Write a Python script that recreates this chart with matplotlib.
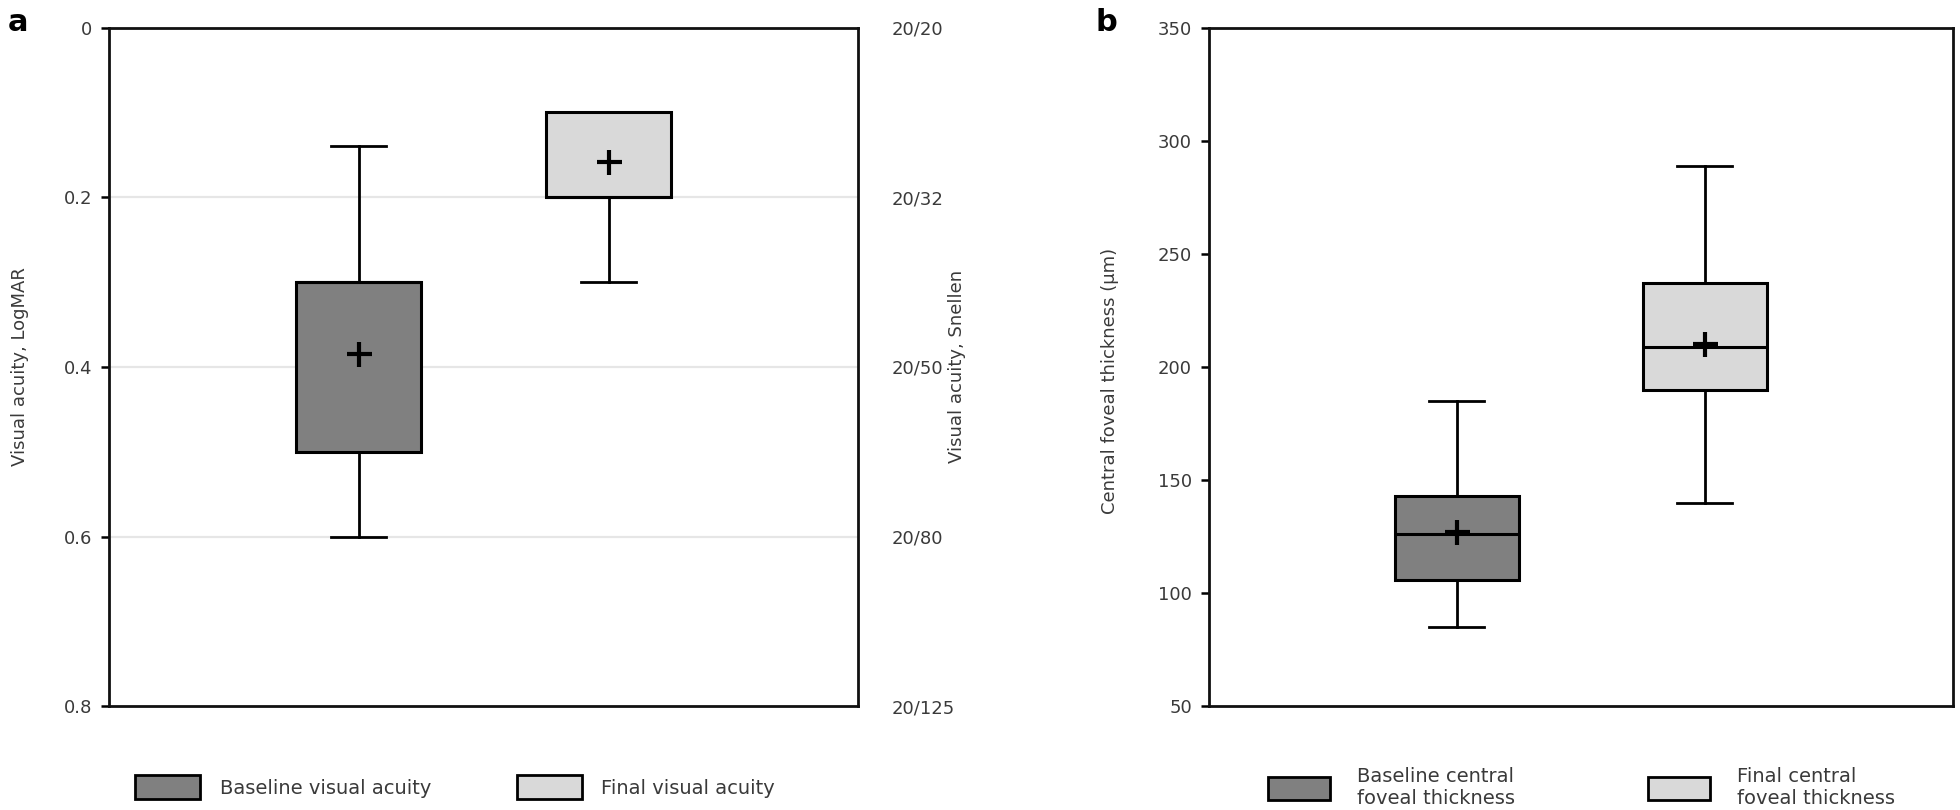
import matplotlib
matplotlib.use("Agg")
import matplotlib.pyplot as plt
import matplotlib.patches as mpatches

plt.rcParams["font.family"] = ["DejaVu Sans"]

# ── Data ─────────────────────────────────────────────────────────────────────
va_labels = ["Baseline visual acuity", "Final visual acuity"]
va_whislo = [0.14, 0.10]
va_q1 = [0.30, 0.10]
va_med = [0.30, 0.20]
va_q3 = [0.50, 0.20]
va_whishi = [0.60, 0.30]
va_mean = [0.385, 0.158]

logmar_ticks = [0, 0.2, 0.4, 0.6, 0.8]
logmar_labels = ["0", "0.2", "0.4", "0.6", "0.8"]
snellen_labels = ["20/20", "20/32", "20/50", "20/80", "20/125"]

cft_labels = ["Baseline central\nfoveal thickness", "Final central\nfoveal thickness"]
cft_whislo = [85, 140]
cft_q1 = [106, 190]
cft_med = [126, 209]
cft_q3 = [143, 237]
cft_whishi = [185, 289]
cft_mean = [127, 210]

cft_ticks = [50, 100, 150, 200, 250, 300, 350]

FILLS = ["#808080", "#d9d9d9"]
TICK_COLOR = "#3a3a3a"
FS = 13
LEG_FS = 14


def make_stats(lo, q1, med, q3, hi, mean):
    return [dict(whislo=a, q1=b, med=c, q3=d, whishi=e, mean=f, fliers=[])
            for a, b, c, d, e, f in zip(lo, q1, med, q3, hi, mean)]


def draw_boxes(ax, stats):
    bp = ax.bxp(stats, positions=[1, 2], widths=0.5, patch_artist=True,
                showmeans=True, showfliers=False, capwidths=0.22,
                boxprops=dict(edgecolor="black", linewidth=2.2),
                whiskerprops=dict(color="black", linewidth=2.0),
                capprops=dict(color="black", linewidth=2.0),
                medianprops=dict(color="black", linewidth=2.2),
                meanprops=dict(marker="+", markersize=18, markeredgecolor="black",
                               markeredgewidth=3.0))
    for patch, c in zip(bp["boxes"], FILLS):
        patch.set_facecolor(c)
        patch.set_zorder(3)
    for key in ("whiskers", "caps", "medians", "means"):
        for art in bp[key]:
            art.set_zorder(4)
    ax.set_xlim(0, 3)
    ax.set_xticks([])
    for spine in ax.spines.values():
        spine.set_linewidth(2.0)
        spine.set_color("#111111")
    ax.tick_params(axis="y", direction="out", length=6, width=1.8,
                   labelsize=FS, labelcolor=TICK_COLOR, pad=6)
    return bp


fig = plt.figure(figsize=(19.6, 8.1), dpi=100)

# ── Panel a ──────────────────────────────────────────────────────────────────
ax1 = fig.add_axes([0.0555, 0.128, 0.3825, 0.838])
draw_boxes(ax1, make_stats(va_whislo, va_q1, va_med, va_q3, va_whishi, va_mean))
ax1.set_ylim(0.8, 0)
ax1.set_yticks(logmar_ticks)
ax1.set_yticklabels(logmar_labels)
for t in logmar_ticks[1:-1]:
    ax1.axhline(t, color="#e6e6e6", linewidth=1.6, zorder=1)
ax1.set_ylabel("Visual acuity, LogMAR", fontsize=FS, color=TICK_COLOR)
ax1.yaxis.set_label_coords(-0.107, 0.5)

ax1r = ax1.twinx()
ax1r.set_ylim(0.8, 0)
ax1r.set_yticks(logmar_ticks)
ax1r.set_yticklabels(snellen_labels)
ax1r.tick_params(axis="y", length=0, labelsize=FS, labelcolor=TICK_COLOR, pad=24)
ax1r.set_ylabel("Visual acuity, Snellen", fontsize=FS, color=TICK_COLOR)
ax1r.yaxis.set_label_coords(1.12, 0.5)
for spine in ax1r.spines.values():
    spine.set_visible(False)

handles_a = [mpatches.Patch(facecolor=c, edgecolor="black", linewidth=2.0, label=l)
             for c, l in zip(FILLS, va_labels)]
fig.legend(handles=handles_a, loc="center left", bbox_to_anchor=(0.060, 0.028),
           ncol=2, frameon=False, fontsize=LEG_FS, labelcolor=TICK_COLOR,
           handlelength=3.35, handleheight=1.5, handletextpad=1.0, columnspacing=4.4)

# ── Panel b ──────────────────────────────────────────────────────────────────
ax2 = fig.add_axes([0.6167, 0.128, 0.3795, 0.838])
draw_boxes(ax2, make_stats(cft_whislo, cft_q1, cft_med, cft_q3, cft_whishi, cft_mean))
ax2.set_ylim(50, 350)
ax2.set_yticks(cft_ticks)
ax2.set_ylabel("Central foveal thickness (µm)", fontsize=FS, color=TICK_COLOR)
ax2.yaxis.set_label_coords(-0.121, 0.48)

handles_b = [mpatches.Patch(facecolor=c, edgecolor="black", linewidth=2.0, label=l)
             for c, l in zip(FILLS, cft_labels)]
fig.legend(handles=handles_b, loc="center left", bbox_to_anchor=(0.638, 0.028),
           ncol=2, frameon=False, fontsize=LEG_FS, labelcolor=TICK_COLOR,
           handlelength=3.2, handleheight=1.5, handletextpad=1.4, columnspacing=6.8)

# Panel letters
fig.text(0.004, 0.972, "a", fontsize=22, fontweight="bold", va="center", ha="left")
fig.text(0.559, 0.972, "b", fontsize=22, fontweight="bold", va="center", ha="left")

fig.savefig("out.png", dpi=100, facecolor="white")
